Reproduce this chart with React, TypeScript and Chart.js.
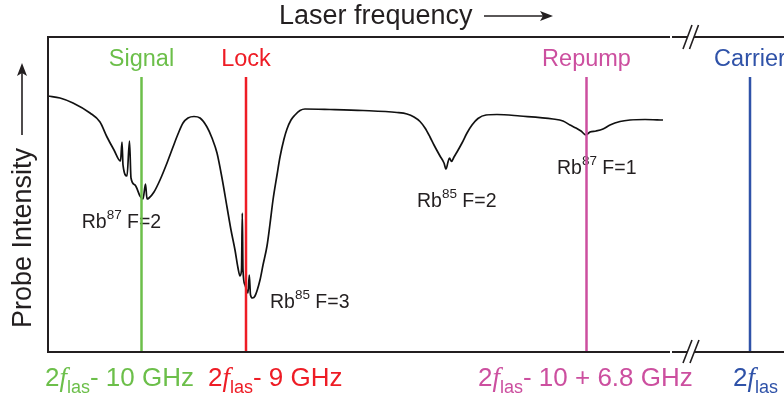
import { useEffect, useRef } from "react";
import { Chart, registerables } from "chart.js";

Chart.register(...registerables);

// Laser frequency (arbitrary units, increasing to the right)
const frequency = [
  0, 12, 25, 42, 52, 59, 66, 72.5, 74, 75, 79, 81.5, 83, 87, 92, 95, 97.5, 99, 101, 106,
  112, 119, 125, 130, 135, 140, 146, 152, 159, 164, 169, 174, 179, 183, 187, 190, 192, 193.5, 194.3, 195,
  197, 200, 201.3, 202.5, 204.5, 207, 212, 215, 219, 222, 225, 229, 232, 236, 239, 243, 247, 252, 257, 282,
  315, 349, 359, 366, 372, 377, 382, 386, 392, 396, 398, 400, 401.5, 403.5, 406, 409, 414, 419, 424, 430,
  438, 449, 472, 505, 515, 522, 528, 533, 538, 542, 548, 555, 562, 572, 582, 597, 615,
];
// Probe intensity (arbitrary units)
const intensity = [
  256, 254, 249, 239, 230, 215, 202, 191, 210, 187, 176, 211, 174, 167, 156, 153, 168, 153, 154, 160,
  172, 189, 205, 218, 229, 234, 235.5, 234, 225, 214, 199, 174, 145, 122, 102, 84, 76, 82, 139, 82,
  67, 59, 77, 57, 54, 56, 72, 87, 106, 128, 152, 177, 195, 213, 223, 232, 237, 241.5, 243, 242.5,
  241.5, 239.5, 238, 235, 230.5, 224, 215, 207, 196, 189, 183, 190, 194, 190.5, 195, 200, 209, 219, 227, 233.5,
  237, 237.5, 236, 233, 231, 227, 224, 221, 217, 220, 221, 223, 227, 230.5, 232, 232.5, 232,
];

// Marker lines (frequencies of the tones)
const markerNames = ["Signal", "Lock", "Repump", "Carrier"];
const markerFreqs = [93.5, 198, 538.5, 702];
const markerColors = ["#6cbf4a", "#ee1c25", "#cc4f9f", "#2f52a8"];
const markerTop = 275;
const markerSuffix = ["- 10 GHz", "- 9 GHz", "- 10 + 6.8 GHz", ""];

// Dip labels: isotope mass, hyperfine level, anchor freq, anchor intensity
const dipMass = ["87", "85", "85", "87"];
const dipLevel = ["F=2", "F=3", "F=2", "F=1"];
const dipFreq = [33.7, 222, 369, 509];
const dipInt = [124, 44, 145, 178];

const INK = "#231f20";

function rich(ctx: CanvasRenderingContext2D, x: number, y: number, segs: { t: string; font: string; dy?: number }[]) {
  for (const s of segs) {
    ctx.font = s.font;
    ctx.fillText(s.t, x, y + (s.dy || 0));
    x += ctx.measureText(s.t).width;
  }
  return x;
}

const decor = {
  id: "decor",
  beforeDatasetsDraw(chart: any) {
    const ctx: CanvasRenderingContext2D = chart.ctx;
    const xs = chart.scales.x;
    const ys = chart.scales.y;
    ctx.save();
    ctx.fillStyle = INK;
    ctx.textAlign = "left";
    ctx.textBaseline = "alphabetic";
    for (let i = 0; i < dipMass.length; i++) {
      const px = xs.getPixelForValue(dipFreq[i]);
      const py = ys.getPixelForValue(dipInt[i]);
      rich(ctx, px, py, [
        { t: "Rb", font: "19.5px 'Liberation Sans', Arial, sans-serif" },
        { t: dipMass[i], font: "13.5px 'Liberation Sans', Arial, sans-serif", dy: -9 },
        { t: " " + dipLevel[i], font: "19.5px 'Liberation Sans', Arial, sans-serif" },
      ]);
    }
    ctx.restore();
  },
  afterDraw(chart: any) {
    const ctx: CanvasRenderingContext2D = chart.ctx;
    const { left, top, bottom } = chart.chartArea;
    const W = chart.width;
    const xs = chart.scales.x;
    ctx.save();
    // frame
    ctx.strokeStyle = INK;
    ctx.lineWidth = 2;
    ctx.lineCap = "butt";
    ctx.beginPath();
    ctx.moveTo(left, top - 1);
    ctx.lineTo(left, bottom + 1);
    for (const y of [top, bottom]) {
      ctx.moveTo(left - 1, y);
      ctx.lineTo(670, y);
      ctx.moveTo(672, y);
      ctx.lineTo(687, y);
      ctx.moveTo(694, y);
      ctx.lineTo(W, y);
    }
    ctx.stroke();
    // break marks
    ctx.lineWidth = 1.6;
    ctx.beginPath();
    ctx.moveTo(683, top + 12); ctx.lineTo(692, top - 12);
    ctx.moveTo(689.5, top + 12); ctx.lineTo(698.5, top - 12);
    ctx.moveTo(683, bottom + 11); ctx.lineTo(692, bottom - 12);
    ctx.moveTo(690, bottom + 11); ctx.lineTo(699, bottom - 12);
    ctx.stroke();

    // title
    ctx.fillStyle = INK;
    ctx.font = "27px 'Liberation Sans', Arial, sans-serif";
    ctx.textBaseline = "alphabetic";
    ctx.textAlign = "left";
    ctx.fillText("Laser frequency", 279, 24);
    ctx.lineWidth = 1.6;
    ctx.beginPath();
    ctx.moveTo(484, 16);
    ctx.lineTo(546, 16);
    ctx.stroke();
    ctx.beginPath();
    ctx.moveTo(553, 16);
    ctx.lineTo(540, 11);
    ctx.lineTo(543, 16);
    ctx.lineTo(540, 21);
    ctx.closePath();
    ctx.fill();

    // y label
    ctx.save();
    ctx.translate(31, 238);
    ctx.rotate(-Math.PI / 2);
    ctx.textAlign = "center";
    ctx.font = "27px 'Liberation Sans', Arial, sans-serif";
    ctx.fillText("Probe Intensity", 0, 0);
    ctx.restore();
    ctx.beginPath();
    ctx.moveTo(22, 135);
    ctx.lineTo(22, 72);
    ctx.stroke();
    ctx.beginPath();
    ctx.moveTo(22, 63);
    ctx.lineTo(17, 76);
    ctx.lineTo(22, 73);
    ctx.lineTo(27, 76);
    ctx.closePath();
    ctx.fill();

    // marker names and bottom labels
    const offs = [-96.5, -38, -108.5, -17];
    for (let i = 0; i < markerNames.length; i++) {
      const px = xs.getPixelForValue(markerFreqs[i]);
      ctx.fillStyle = markerColors[i];
      ctx.textAlign = "center";
      ctx.font = "23.5px 'Liberation Sans', Arial, sans-serif";
      ctx.fillText(markerNames[i], px, 66);
      ctx.textAlign = "left";
      rich(ctx, px + offs[i], 386, [
        { t: "2", font: "26px 'Liberation Sans', Arial, sans-serif" },
        { t: "f", font: "italic 27px 'Liberation Serif', serif" },
        { t: "las", font: "18px 'Liberation Sans', Arial, sans-serif", dy: 7 },
        { t: markerSuffix[i], font: "26px 'Liberation Sans', Arial, sans-serif" },
      ]);
    }
    ctx.restore();
  },
};

export default function App() {
  const ref = useRef<HTMLCanvasElement>(null);
  useEffect(() => {
    if (!ref.current) return;
    const markerSets = markerFreqs.map((f, i) => ({
      data: [
        { x: f, y: 0 },
        { x: f, y: markerTop },
      ],
      borderColor: markerColors[i],
      borderWidth: 2.5,
      pointRadius: 0,
      showLine: true,
      order: 0,
    }));
    const chart = new Chart(ref.current, {
      type: "scatter",
      data: {
        datasets: [
          ...markerSets,
          {
            data: frequency.map((f, i) => ({ x: f, y: intensity[i] })),
            borderColor: "#111",
            borderWidth: 1.7,
            pointRadius: 0,
            showLine: true,
            cubicInterpolationMode: "monotone",
            order: 10,
          },
        ],
      },
      options: {
        animation: false,
        responsive: false,
        devicePixelRatio: 1,
        layout: { padding: { left: 48, top: 37, right: 0, bottom: 49 } },
        plugins: { legend: { display: false }, tooltip: { enabled: false } },
        scales: {
          x: { type: "linear", min: 0, max: 736, display: false },
          y: { type: "linear", min: 0, max: 315, display: false },
        },
      },
      plugins: [decor],
    });
    return () => chart.destroy();
  }, []);
  return (
    <div style={{ position: "fixed", left: 0, top: 0, width: 784, height: 401, background: "#fff" }}>
      <canvas ref={ref} width={784} height={401} />
    </div>
  );
}
